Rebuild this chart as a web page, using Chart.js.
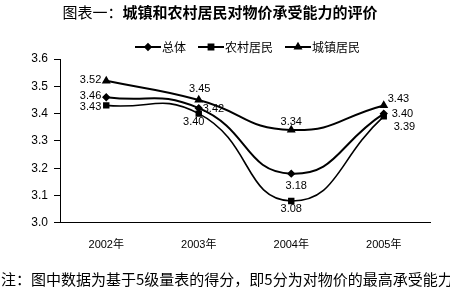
<!DOCTYPE html>
<html>
<head>
<meta charset="utf-8">
<script src="https://cdn.jsdelivr.net/npm/chart.js@4"></script>
<style>
  html, body { margin: 0; padding: 0; background: #fff; }
  #wrap { width: 450px; height: 288px; }
</style>
</head>
<body>
<div id="wrap"><canvas id="myChart" width="450" height="288"></canvas></div>
<script>
// Daten ------------------------------------------------------------------
const years = ['2002年', '2003年', '2004年', '2005年'];
const zongti = [3.46, 3.42, 3.18, 3.40];   // 总体
const nongcun = [3.43, 3.40, 3.08, 3.39];  // 农村居民
const chengzhen = [3.52, 3.45, 3.34, 3.43]; // 城镇居民
const seriesNames = ['总体', '农村居民', '城镇居民'];
const yTicks = [3.0, 3.1, 3.2, 3.3, 3.4, 3.5, 3.6];
const titleHead = '图表一：';
const titleBody = '城镇和农村居民对物价承受能力的评价';
const note = '注：图中数据为基于5级量表的得分，即5分为对物价的最高承受能力';
//--------------------------------------------------------------------------

const FONT = '"Liberation Sans", Arial, "Noto Sans CJK SC", sans-serif';
const CJK = '"Noto Sans CJK SC", sans-serif';

// Label-Positionen (dx, dy, Ausrichtung) pro Datensatz und Punkt
const labelPos = [
  [[-5, -1, 'right'], [4, 1, 'left'], [5, 12, 'center'], [8, 0, 'left']],
  [[-5, 2, 'right'], [-5, 8, 'center'], [0, 8, 'center'], [10, 11, 'left']],
  [[-5, -1, 'right'], [1, -11, 'center'], [0, -8, 'center'], [4, -6, 'left']]
];

const valueLabels = {
  id: 'valueLabels',
  afterDatasetsDraw(chart) {
    const ctx = chart.ctx;
    ctx.save();
    ctx.fillStyle = '#000';
    ctx.font = '11px ' + FONT;
    ctx.textBaseline = 'middle';
    chart.data.datasets.forEach((ds, i) => {
      const meta = chart.getDatasetMeta(i);
      meta.data.forEach((pt, k) => {
        const p = labelPos[i][k];
        ctx.textAlign = p[2];
        ctx.fillText(ds.data[k].toFixed(2), pt.x + p[0], pt.y + p[1]);
      });
    });
    ctx.restore();
  }
};

// Titel (gemischt normal/fett), Legende mit Linie + Marker, Anmerkung unten
const headerStuff = {
  id: 'headerStuff',
  afterDraw(chart) {
    const ctx = chart.ctx;
    ctx.save();
    ctx.fillStyle = '#000';
    ctx.textBaseline = 'middle';
    ctx.font = '15px ' + CJK;
    const w1 = ctx.measureText(titleHead).width;
    ctx.font = 'bold 15px ' + CJK;
    const w2 = ctx.measureText(titleBody).width;
    let x = 220 - (w1 + w2) / 2;
    ctx.textAlign = 'left';
    ctx.font = '15px ' + CJK;
    ctx.fillText(titleHead, x, 12);
    ctx.font = 'bold 15px ' + CJK;
    ctx.fillText(titleBody, x + w1, 12);

    // Legende
    let lx = 135;
    const ly = 47;
    ctx.font = '12px ' + CJK;
    chart.data.datasets.forEach((ds) => {
      ctx.strokeStyle = '#000';
      ctx.lineWidth = 2;
      ctx.beginPath();
      ctx.moveTo(lx, ly);
      ctx.lineTo(lx + 26, ly);
      ctx.stroke();
      Chart.helpers.drawPoint(ctx, {
        pointStyle: ds.pointStyle,
        radius: ds.pointRadius,
        borderWidth: 1,
        rotation: 0
      }, lx + 13, ly);
      ctx.fillStyle = '#000';
      ctx.fill();
      ctx.fillText(ds.label, lx + 27, ly);
      lx += 27 + ctx.measureText(ds.label).width + 12;
    });

    // Anmerkung
    ctx.font = '15px ' + CJK;
    ctx.fillText(note, 1, 279);
    ctx.restore();
  }
};

const ctx = document.getElementById('myChart').getContext('2d');
const myChart = new Chart(ctx, {
  type: 'line',
  data: {
    labels: years,
    datasets: [{
      label: seriesNames[0],
      data: zongti,
      borderColor: '#000',
      backgroundColor: '#000',
      borderWidth: 2,
      pointStyle: 'rectRot',
      pointRadius: 2.8,
      tension: 0.5
    }, {
      label: seriesNames[1],
      data: nongcun,
      borderColor: '#000',
      backgroundColor: '#000',
      borderWidth: 1.6,
      pointStyle: 'rect',
      pointRadius: 3.4,
      tension: 0.5
    }, {
      label: seriesNames[2],
      data: chengzhen,
      borderColor: '#000',
      backgroundColor: '#000',
      borderWidth: 2,
      pointStyle: 'triangle',
      pointRadius: 3.2,
      tension: 0.5
    }]
  },
  options: {
    responsive: false,
    animation: false,
    layout: { padding: { top: 59, right: 20, left: 0, bottom: 28 } },
    scales: {
      x: {
        offset: true,
        grid: { display: false },
        border: { color: '#000', width: 1 },
        ticks: { color: '#000', font: { size: 11, family: FONT }, padding: 8 }
      },
      y: {
        min: yTicks[0],
        max: yTicks[yTicks.length - 1],
        afterBuildTicks: scale => { scale.ticks = yTicks.map(v => ({ value: v })); },
        afterFit: scale => { scale.width = 60; },
        grid: {
          drawOnChartArea: false,
          drawTicks: true,
          tickLength: 6,
          color: '#000'
        },
        border: { color: '#000', width: 1 },
        ticks: {
          color: '#000',
          font: { size: 12, family: FONT },
          padding: 6,
          callback: v => v.toFixed(1)
        }
      }
    },
    plugins: {
      legend: { display: false },
      tooltip: { enabled: false },
      title: { display: false },
      subtitle: { display: false }
    }
  },
  plugins: [valueLabels, headerStuff]
});
</script>
</body>
</html>
